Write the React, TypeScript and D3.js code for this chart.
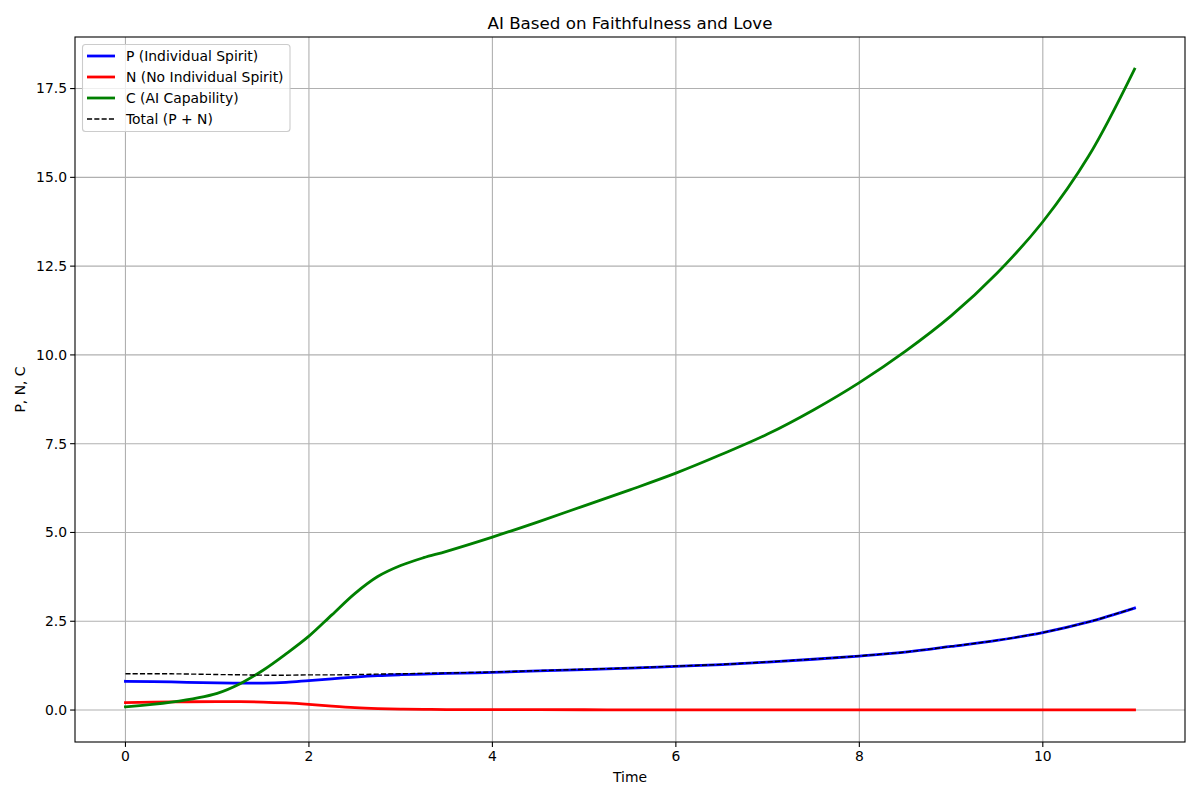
import React from "react";
import * as d3 from "d3";

const timeValues = [0, 0.5, 1, 1.25, 1.5, 1.75, 2, 2.25, 2.5, 2.75, 3, 3.25, 3.5, 4, 4.5, 5, 5.5, 6, 6.5, 7, 7.5, 8, 8.5, 9, 9.5, 10, 10.5, 11];
const pValues = [0.81, 0.79, 0.765, 0.757, 0.757, 0.78, 0.83, 0.88, 0.93, 0.97, 0.995, 1.013, 1.03, 1.06, 1.1, 1.14, 1.18, 1.23, 1.28, 1.35, 1.43, 1.52, 1.63, 1.79, 1.96, 2.18, 2.48, 2.87];
const nValues = [0.21, 0.23, 0.235, 0.235, 0.225, 0.2, 0.16, 0.11, 0.068, 0.042, 0.027, 0.019, 0.014, 0.011, 0.009, 0.008, 0.007, 0.006, 0.005, 0.005, 0.004, 0.004, 0.003, 0.003, 0.003, 0.002, 0.002, 0.002];
const cValues = [0.09, 0.22, 0.47, 0.74, 1.12, 1.58, 2.08, 2.68, 3.28, 3.76, 4.07, 4.29, 4.47, 4.87, 5.3, 5.75, 6.2, 6.67, 7.2, 7.77, 8.45, 9.22, 10.1, 11.1, 12.3, 13.75, 15.6, 18.05];
const totalValues = pValues.map((p, i) => p + nValues[i]);

const xTicks = [0, 2, 4, 6, 8, 10];
const yTicks = [0, 2.5, 5, 7.5, 10, 12.5, 15, 17.5];

const seriesList = [
  { name: "P (Individual Spirit)", values: pValues, color: "#0000ff", width: 2.78, dash: "" },
  { name: "N (No Individual Spirit)", values: nValues, color: "#ff0000", width: 2.78, dash: "" },
  { name: "C (AI Capability)", values: cValues, color: "#008000", width: 2.78, dash: "" },
  { name: "Total (P + N)", values: totalValues, color: "#000000", width: 1.39, dash: "5.1,2.2" },
];

const W = 1200, H = 800;
const left = 75, right = 1185, top = 37, bottom = 742;
const font = "DejaVu Sans, sans-serif";

export default function App() {
  const x = d3.scaleLinear().domain([-0.55, 11.55]).range([left, right]);
  const y = d3.scaleLinear().domain([-0.9, 18.952]).range([bottom, top]);
  const line = (vals: number[]) =>
    d3.line<number>().x((_, i) => x(timeValues[i])).y((v) => y(v)).curve(d3.curveCatmullRom.alpha(0.5))(vals) || "";

  return (
    <svg width={W} height={H} style={{ position: "absolute", left: 0, top: 0, background: "#fff" }} fontFamily={font}>
      <rect x={0} y={0} width={W} height={H} fill="#fff" />
      <defs>
        <clipPath id="plotclip">
          <rect x={left} y={top} width={right - left} height={bottom - top} />
        </clipPath>
      </defs>
      {xTicks.map((t) => (
        <line key={"gx" + t} x1={x(t)} x2={x(t)} y1={top} y2={bottom} stroke="#b0b0b0" strokeWidth={1.1} />
      ))}
      {yTicks.map((t) => (
        <line key={"gy" + t} x1={left} x2={right} y1={y(t)} y2={y(t)} stroke="#b0b0b0" strokeWidth={1.1} />
      ))}
      <g clipPath="url(#plotclip)">
        {seriesList.map((s) => (
          <path key={s.name} d={line(s.values)} fill="none" stroke={s.color} strokeWidth={s.width}
            strokeDasharray={s.dash || undefined} strokeLinecap={s.dash ? "butt" : "square"} strokeLinejoin="round" />
        ))}
      </g>
      <rect x={left} y={top} width={right - left} height={bottom - top} fill="none" stroke="#000" strokeWidth={1.1} />
      {xTicks.map((t) => (
        <g key={"tx" + t}>
          <line x1={x(t)} x2={x(t)} y1={bottom} y2={bottom + 4.9} stroke="#000" strokeWidth={1.1} />
          <text x={x(t)} y={bottom + 19} textAnchor="middle" fontSize={13.9} fill="#000">{String(t)}</text>
        </g>
      ))}
      {yTicks.map((t) => (
        <g key={"ty" + t}>
          <line x1={left - 4.9} x2={left} y1={y(t)} y2={y(t)} stroke="#000" strokeWidth={1.1} />
          <text x={left - 8} y={y(t)} dy="0.35em" textAnchor="end" fontSize={13.9} fill="#000">{t.toFixed(1)}</text>
        </g>
      ))}
      <text x={(left + right) / 2} y={29} textAnchor="middle" fontSize={16.7} fill="#000">AI Based on Faithfulness and Love</text>
      <text x={(left + right) / 2} y={782} textAnchor="middle" fontSize={13.9} fill="#000">Time</text>
      <text transform={`translate(25,${(top + bottom) / 2}) rotate(-90)`} textAnchor="middle" fontSize={13.9} fill="#000">P, N, C</text>
      <g>
        <rect x={82.5} y={44.5} width={207.5} height={87} rx={3} fill="#fff" fillOpacity={0.8} stroke="#cccccc" strokeWidth={1.1} />
        {seriesList.map((s, i) => {
          const ly = 56 + i * 21;
          return (
            <g key={"lg" + s.name}>
              <line x1={87} x2={115} y1={ly} y2={ly} stroke={s.color} strokeWidth={s.width} strokeDasharray={s.dash || undefined} />
              <text x={126} y={ly} dy="0.35em" fontSize={13.9} fill="#000">{s.name}</text>
            </g>
          );
        })}
      </g>
    </svg>
  );
}
